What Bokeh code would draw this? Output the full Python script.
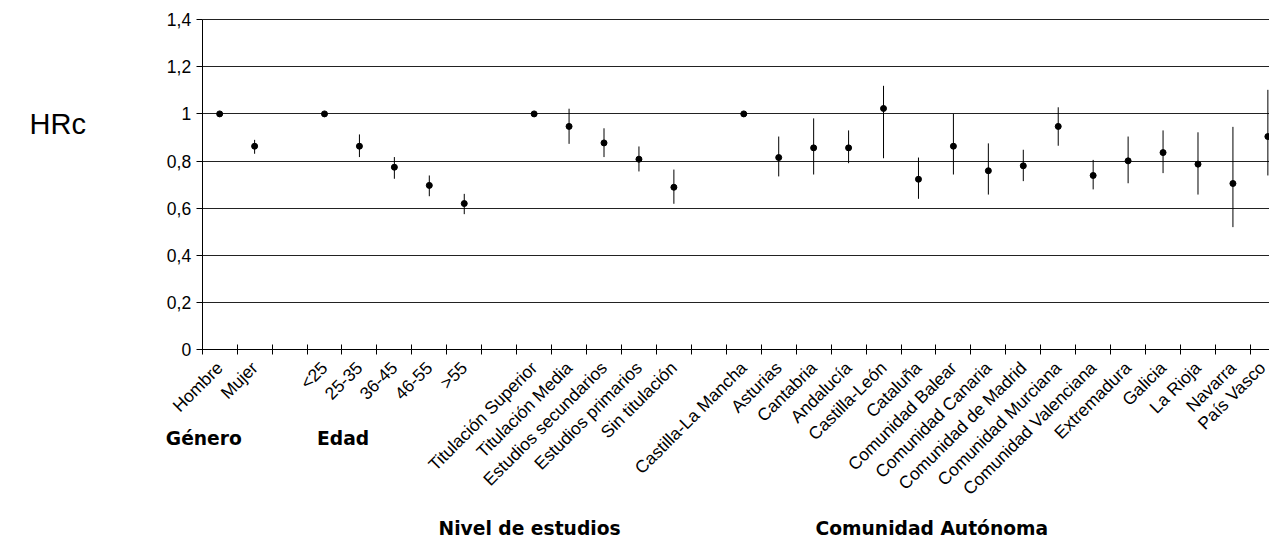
import math
from bokeh.plotting import figure
from bokeh.models import FixedTicker, Range1d, Label, ColumnDataSource
from bokeh.embed import file_html
from bokeh.resources import INLINE

nan = float("nan")

categories = ["Hombre", "Mujer", "", "<25", "25-35", "36-45", "46-55", ">55", "",
              "Titulación Superior", "Titulación Media", "Estudios secundarios",
              "Estudios primarios", "Sin titulación", "",
              "Castilla-La Mancha", "Asturias", "Cantabria", "Andalucía", "Castilla-León",
              "Cataluña", "Comunidad Balear", "Comunidad Canaria", "Comunidad de Madrid",
              "Comunidad Murciana", "Comunidad Valenciana", "Extremadura", "Galicia",
              "La Rioja", "Navarra", "País Vasco"]

hrc = [1.0, 0.863, nan, 1.0, 0.863, 0.774, 0.697, 0.620, nan,
       1.0, 0.947, 0.877, 0.808, 0.689, nan,
       1.0, 0.815, 0.856, 0.856, 1.023, 0.723, 0.863, 0.759, 0.780,
       0.947, 0.739, 0.801, 0.836, 0.787, 0.705, 0.904]
lower = [nan, 0.831, nan, nan, 0.817, 0.725, 0.651, 0.575, nan,
         nan, 0.873, 0.817, 0.756, 0.619, nan,
         nan, 0.735, 0.743, 0.791, 0.812, 0.640, 0.743, 0.658, 0.715,
         0.865, 0.680, 0.706, 0.749, 0.658, 0.520, 0.739]
upper = [nan, 0.890, nan, nan, 0.913, 0.817, 0.739, 0.661, nan,
         nan, 1.022, 0.939, 0.862, 0.764, nan,
         nan, 0.904, 0.981, 0.930, 1.119, 0.815, 1.000, 0.875, 0.848,
         1.028, 0.805, 0.904, 0.930, 0.922, 0.945, 1.102]

groups = ["Género", "Edad", "Nivel de estudios", "Comunidad Autónoma"]
y_ticks = [0, 0.2, 0.4, 0.6, 0.8, 1.0, 1.2, 1.4]
y_labels = ["0", "0,2", "0,4", "0,6", "0,8", "1", "1,2", "1,4"]

W, H = 1269, 540
AX0, AY0 = 201.7, 349.3      # pixel position of the data origin
CW, YU = 34.94, 235.9         # pixels per category, pixels per unit

def px_to_x(px):
    return (px - AX0) / CW

def py_to_y(py):
    return (AY0 - py) / YU

n = len(categories)
xs = [i + 0.5 for i in range(n)]
src = ColumnDataSource(dict(x=xs, y=hrc, lo=lower, hi=upper))

x_end = px_to_x(W)
p = figure(width=W, height=H, output_backend="svg", toolbar_location=None,
           x_range=Range1d(px_to_x(0), x_end), y_range=Range1d(py_to_y(H), py_to_y(0)),
           min_border=0, x_axis_location="below", y_axis_location="left")
p.outline_line_color = None
p.xgrid.visible = False
p.ygrid.ticker = FixedTicker(ticks=y_ticks)
p.ygrid.grid_line_color = "#222222"
p.ygrid.grid_line_width = 1
p.ygrid.cross_bounds = (0, x_end)

# x axis (drawn at y = 0)
xa = p.xaxis[0]
xa.fixed_location = 0
xa.bounds = (0, x_end)
xa.ticker = FixedTicker(ticks=xs, minor_ticks=list(range(n)))
xa.major_label_overrides = {x: c for x, c in zip(xs, categories)}
xa.major_label_orientation = math.pi / 4
xa.major_tick_in = 0
xa.major_tick_out = 0
xa.minor_tick_in = 5
xa.minor_tick_out = 5
xa.minor_tick_line_color = "black"
xa.axis_line_color = "black"
xa.major_label_text_font = "Liberation Sans"
xa.major_label_text_font_size = "17.5px"
xa.major_label_text_color = "black"
xa.major_label_standoff = 10

# y axis (drawn at x = 0)
ya = p.yaxis[0]
ya.fixed_location = 0
ya.bounds = (0, 1.4)
ya.ticker = FixedTicker(ticks=y_ticks)
ya.major_label_overrides = {t: l for t, l in zip(y_ticks, y_labels)}
ya.major_tick_in = 0
ya.major_tick_out = 6
ya.minor_tick_line_color = None
ya.axis_line_color = "black"
ya.major_tick_line_color = "black"
ya.major_label_text_font = "Liberation Sans"
ya.major_label_text_font_size = "17.5px"
ya.major_label_text_color = "black"
ya.major_label_standoff = 5

p.segment(x0="x", y0="lo", x1="x", y1="hi", source=src, line_color="black", line_width=1)
p.scatter(x="x", y="y", source=src, size=6, color="black")

group_pos = [(165.3, 437.5), (316.5, 437.5), (438.0, 527.5), (815.0, 527.5)]
for g, (gx, gy) in zip(groups, group_pos):
    p.add_layout(Label(x=px_to_x(gx), y=py_to_y(gy), text=g, text_font="DejaVu Sans",
                       text_font_style="bold", text_font_size="18.7px", text_color="black",
                       text_align="left", text_baseline="alphabetic"))

p.add_layout(Label(x=px_to_x(29), y=py_to_y(123), text="HRc", text_font="Liberation Sans",
                   text_font_size="29px", text_color="black",
                   text_align="left", text_baseline="alphabetic"))

open("out.html", "w").write(file_html(p, INLINE))
